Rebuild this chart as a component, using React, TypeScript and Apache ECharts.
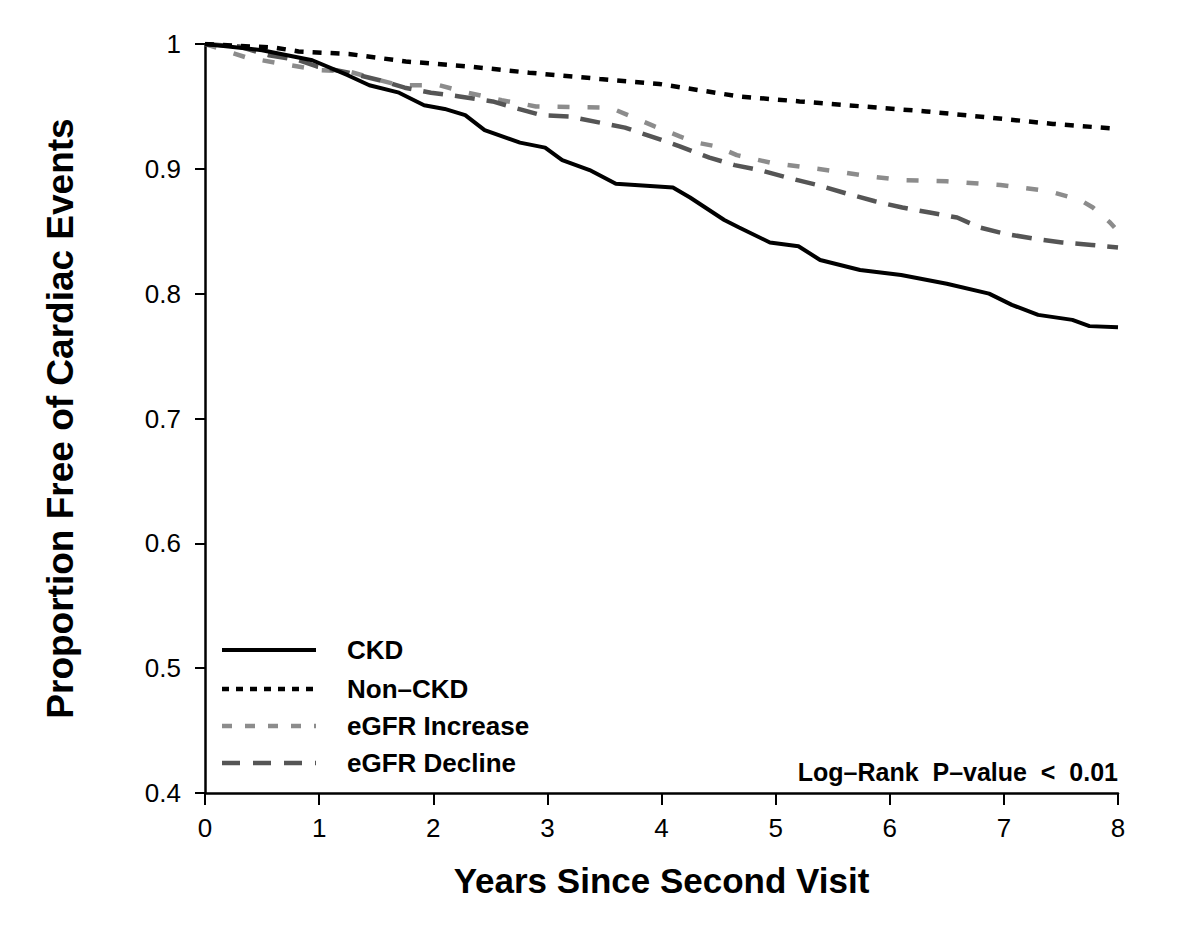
import React, { useEffect, useRef } from "react";
import * as echarts from "echarts";

const ckdYears = [0, 0.5, 0.94, 1.25, 1.44, 1.7, 1.92, 2.1, 2.28, 2.45, 2.76, 2.98, 3.13, 3.37, 3.6, 4.1, 4.25, 4.55, 4.68, 4.95, 5.2, 5.39, 5.74, 6.1, 6.5, 6.87, 7.07, 7.3, 7.6, 7.75, 8];
const ckdValues = [1.0, 0.995, 0.987, 0.975, 0.967, 0.961, 0.951, 0.948, 0.943, 0.931, 0.921, 0.917, 0.907, 0.899, 0.888, 0.885, 0.877, 0.859, 0.853, 0.841, 0.838, 0.827, 0.819, 0.815, 0.808, 0.8, 0.791, 0.783, 0.779, 0.774, 0.773];

const nonCkdYears = [0, 0.62, 0.82, 1.26, 1.76, 2.31, 2.84, 3.46, 3.98, 4.68, 5.21, 5.76, 6.32, 6.88, 7.43, 8];
const nonCkdValues = [1.0, 0.997, 0.994, 0.992, 0.986, 0.982, 0.977, 0.972, 0.968, 0.958, 0.954, 0.95, 0.946, 0.941, 0.936, 0.932];

const incYears = [0, 0.37, 1.0, 1.26, 1.53, 1.7, 2.05, 2.3, 2.6, 2.9, 3.55, 3.76, 3.94, 4.16, 4.31, 4.48, 4.66, 4.95, 5.53, 5.82, 6.1, 6.5, 6.97, 7.4, 7.67, 7.78, 7.93, 7.97];
const incValues = [1.0, 0.989, 0.979, 0.978, 0.971, 0.967, 0.967, 0.961, 0.955, 0.95, 0.949, 0.941, 0.934, 0.926, 0.921, 0.918, 0.911, 0.905, 0.898, 0.894, 0.891, 0.89, 0.887, 0.882, 0.875, 0.869, 0.857, 0.853];

const decYears = [0, 0.3, 0.56, 0.82, 0.98, 1.26, 1.53, 1.75, 1.98, 2.23, 2.52, 2.71, 2.95, 3.19, 3.46, 3.68, 3.94, 4.16, 4.42, 4.64, 4.86, 5.1, 5.37, 5.63, 5.87, 6.11, 6.35, 6.59, 6.79, 7.01, 7.27, 7.51, 7.77, 8];
const decValues = [1.0, 0.998, 0.991, 0.987, 0.982, 0.977, 0.971, 0.965, 0.961, 0.958, 0.954, 0.949, 0.943, 0.942, 0.937, 0.933, 0.925, 0.918, 0.909, 0.903, 0.899, 0.893, 0.887, 0.88, 0.874, 0.869, 0.865, 0.861, 0.853, 0.848, 0.844, 0.841, 0.839, 0.837];

const seriesNames = ["CKD", "Non\u2013CKD", "eGFR Increase", "eGFR Decline"];
const seriesColors = ["#000000", "#000000", "#8c8c8c", "#555555"];
const xTicks = [0, 1, 2, 3, 4, 5, 6, 7, 8];
const yTicks = [0.4, 0.5, 0.6, 0.7, 0.8, 0.9, 1];

const FONT = "'Liberation Sans', Arial, Helvetica, sans-serif";

const plotDashes: (number[] | null)[] = [null, [9, 9], [12, 18], [20, 12]];
const legendDashes: (number[] | null)[] = [null, [7, 7], [10, 13], [18, 13]];
const lineWidths = [4, 4.5, 4.5, 4.5];

function pairs(xs: number[], ys: number[]) {
  return xs.map((x, i) => [x, ys[i]]);
}

export default function App() {
  const ref = useRef<HTMLDivElement>(null);
  useEffect(() => {
    document.body.style.margin = "0";
    const chart = echarts.init(ref.current!, null, { renderer: "svg" });
    const legendRowsY = [650, 689, 726, 763];
    const legendGraphics: any[] = [];
    seriesNames.forEach((name, i) => {
      legendGraphics.push({
        type: "line",
        shape: { x1: 222, y1: legendRowsY[i], x2: 316, y2: legendRowsY[i] },
        style: {
          stroke: seriesColors[i],
          lineWidth: lineWidths[i],
          lineDash: legendDashes[i] || undefined,
        },
      });
      legendGraphics.push({
        type: "text",
        x: 347,
        y: legendRowsY[i],
        style: {
          text: name,
          fontSize: 26,
          fontWeight: "bold",
          fill: "#000",
          fontFamily: FONT,
          textVerticalAlign: "middle",
          verticalAlign: "middle",
        },
      });
    });
    const datasets = [
      pairs(ckdYears, ckdValues),
      pairs(nonCkdYears, nonCkdValues),
      pairs(incYears, incValues),
      pairs(decYears, decValues),
    ];
    const option = {
      animation: false,
      backgroundColor: "#ffffff",
      grid: { left: 205, right: 82, top: 44, bottom: 143 },
      xAxis: {
        type: "value",
        min: 0,
        max: 8,
        interval: 1,
        name: "Years Since Second Visit",
        nameLocation: "middle",
        nameGap: 70,
        nameTextStyle: { fontSize: 35, fontWeight: "bold", color: "#000", fontFamily: FONT },
        axisLine: { show: true, lineStyle: { color: "#000", width: 2.5 } },
        axisTick: { show: true, length: 12, lineStyle: { color: "#000", width: 2 } },
        axisLabel: {
          fontSize: 26,
          color: "#000",
          margin: 22,
          fontFamily: FONT,
          formatter: (v: number) => (xTicks.includes(v) ? String(v) : ""),
        },
        splitLine: { show: false },
      },
      yAxis: {
        type: "value",
        min: 0.4,
        max: 1,
        interval: 0.1,
        name: "Proportion Free of Cardiac Events",
        nameLocation: "middle",
        nameGap: 126,
        nameTextStyle: { fontSize: 37, fontWeight: "bold", color: "#000", fontFamily: FONT },
        axisLine: { show: true, lineStyle: { color: "#000", width: 2.5 } },
        axisTick: { show: true, length: 10, lineStyle: { color: "#000", width: 2 } },
        axisLabel: {
          fontSize: 26,
          color: "#000",
          margin: 24,
          fontFamily: FONT,
          formatter: (v: number) => {
            const r = Math.round(v * 10) / 10;
            return yTicks.includes(r) ? String(r) : "";
          },
        },
        splitLine: { show: false },
      },
      graphic: [
        ...legendGraphics,
        {
          type: "text",
          right: 82,
          top: 759,
          style: {
            text: "Log\u2013Rank  P\u2013value  <  0.01",
            fontSize: 25,
            fontWeight: "bold",
            fill: "#000",
            fontFamily: FONT,
          },
        },
      ],
      series: seriesNames.map((name, i) => ({
        name,
        type: "line",
        data: datasets[i],
        showSymbol: false,
        symbol: "none",
        lineStyle: {
          color: seriesColors[i],
          width: lineWidths[i],
          type: plotDashes[i] || "solid",
        },
        itemStyle: { color: seriesColors[i] },
        z: i === 0 ? 5 : i === 1 ? 4 : 3,
      })),
    };
    chart.setOption(option);
    return () => chart.dispose();
  }, []);
  return <div ref={ref} style={{ width: 1200, height: 936 }} />;
}
